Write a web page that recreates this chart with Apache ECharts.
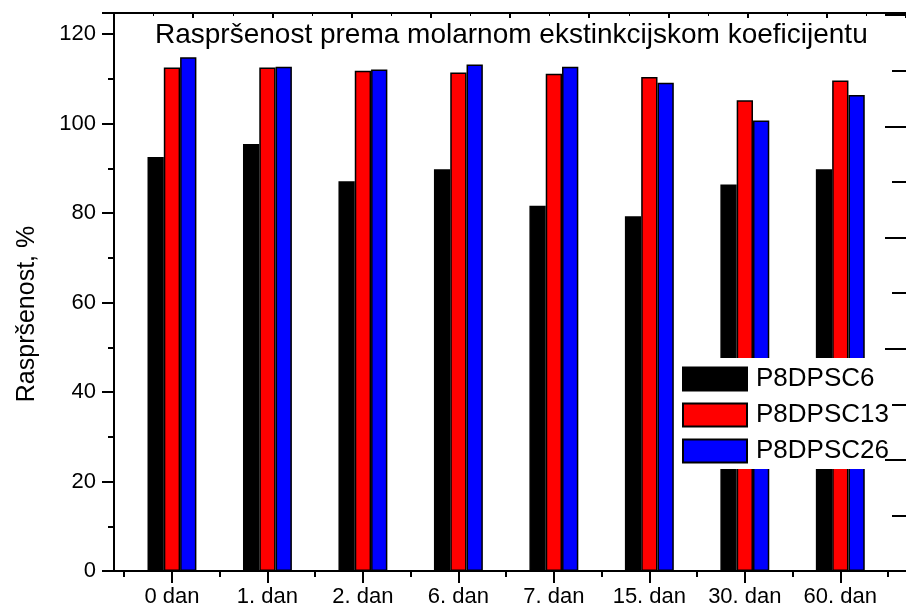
<!DOCTYPE html>
<html>
<head>
<meta charset="utf-8">
<script src="https://cdn.jsdelivr.net/npm/echarts@6/dist/echarts.min.js"></script>
<style>
html,body{margin:0;padding:0;background:#fff;}
#chart{width:906px;height:610px;}
</style>
</head>
<body>
<div id="chart"></div>
<script>
var categories = ['0 dan', '1. dan', '2. dan', '6. dan', '7. dan', '15. dan', '30. dan', '60. dan'];
var seriesNames = ['P8DPSC6', 'P8DPSC13', 'P8DPSC26'];
var p8dpsc6 = [92.5, 95.4, 87.1, 89.8, 81.6, 79.3, 86.4, 89.8];
var p8dpsc13 = [112.5, 112.5, 111.8, 111.4, 111.1, 110.4, 105.2, 109.6];
var p8dpsc26 = [114.8, 112.7, 112.1, 113.2, 112.7, 109.1, 100.7, 106.4];
var yTicks = [0, 20, 40, 60, 80, 100, 120];
var titleText = 'Raspršenost prema molarnom ekstinkcijskom koeficijentu';
var yName = 'Raspršenost, %';

var FONT = "'Liberation Sans', Arial, sans-serif";
var positions = categories.map(function (c, i) { return i + 1; });
var boundaries = [0.5].concat(positions.map(function (p) { return p + 0.5; }));
function pairs(arr) { return arr.map(function (v, i) { return [positions[i], v]; }); }

var chart = echarts.init(document.getElementById('chart'), null, {renderer: 'canvas'});
var colors = ['#000000', '#ff0000', '#0000ff'];
var datas = [p8dpsc6, p8dpsc13, p8dpsc26];

var option = {
  animation: false,
  backgroundColor: '#ffffff',
  title: {
    text: titleText,
    left: 155,
    top: 21,
    padding: 0,
    textStyle: {fontFamily: FONT, fontSize: 28, fontWeight: 'normal', color: '#000'}
  },
  legend: {
    orient: 'vertical',
    left: 678,
    top: 358,
    padding: [8, 60, 5, 4],
    backgroundColor: '#ffffff',
    itemWidth: 64,
    itemHeight: 23,
    itemGap: 10,
    icon: 'rect',
    data: seriesNames,
    textStyle: {fontFamily: FONT, fontSize: 26, color: '#000', lineHeight: 23, padding: [0, 0, 0, 4]}
  },
  grid: {left: 114, top: 13, right: -1, bottom: 39, containLabel: false},
  xAxis: [
    {
      type: 'value', position: 'bottom', min: 0.393, max: 8.688,
      axisLine: {show: true, lineStyle: {color: '#000', width: 2}},
      axisTick: {show: true, inside: false, length: 12, customValues: positions, lineStyle: {color: '#000', width: 2}},
      axisLabel: {show: true, customValues: positions, margin: 15, fontFamily: FONT, fontSize: 22, color: '#000',
        formatter: function (v) { return categories[Math.round(v) - 1] || ''; }},
      splitLine: {show: false}
    },
    {
      type: 'value', position: 'bottom', min: 0.393, max: 8.688,
      axisLine: {show: false},
      axisTick: {show: true, inside: false, length: 6, customValues: boundaries, lineStyle: {color: '#000', width: 2}},
      axisLabel: {show: false},
      splitLine: {show: false}
    },
    {
      type: 'value', position: 'top', min: 0, max: 10, interval: 1,
      axisLine: {show: true, lineStyle: {color: '#000', width: 2}},
      axisTick: {show: true, inside: true, length: 5, lineStyle: {color: '#000', width: 2}},
      minorTick: {show: true, splitNumber: 2, length: 3, lineStyle: {color: '#000', width: 1}},
      axisLabel: {show: false},
      splitLine: {show: false}
    }
  ],
  yAxis: [
    {
      type: 'value', position: 'left', min: 0, max: 124.7, interval: 20,
      name: yName, nameLocation: 'middle', nameGap: 74, nameRotate: 90,
      nameTextStyle: {fontFamily: FONT, fontSize: 25, color: '#000', padding: [0, 0, 0, -44]},
      axisLine: {show: true, lineStyle: {color: '#000', width: 2}},
      axisTick: {show: true, inside: false, length: 12, lineStyle: {color: '#000', width: 2}},
      minorTick: {show: true, splitNumber: 2, length: 6, lineStyle: {color: '#000', width: 2}},
      axisLabel: {margin: 18, fontFamily: FONT, fontSize: 22, color: '#000',
        customValues: yTicks},
      splitLine: {show: false}
    },
    {
      type: 'value', position: 'right', min: 0, max: 10.04, interval: 2, z: 10,
      axisLine: {show: false},
      axisTick: {show: true, inside: true, length: 21, lineStyle: {color: '#000', width: 2}},
      minorTick: {show: true, splitNumber: 2, length: 14, lineStyle: {color: '#000', width: 2}},
      axisLabel: {show: false},
      splitLine: {show: false}
    }
  ],
  series: seriesNames.map(function (name, k) {
    return {
      name: name,
      type: 'bar',
      xAxisIndex: 0,
      yAxisIndex: 0,
      barWidth: 16.3,
      barGap: '0%',
      itemStyle: {color: colors[k], borderColor: '#000', borderWidth: 1.5},
      data: pairs(datas[k])
    };
  })
};
chart.setOption(option);
</script>
</body>
</html>
